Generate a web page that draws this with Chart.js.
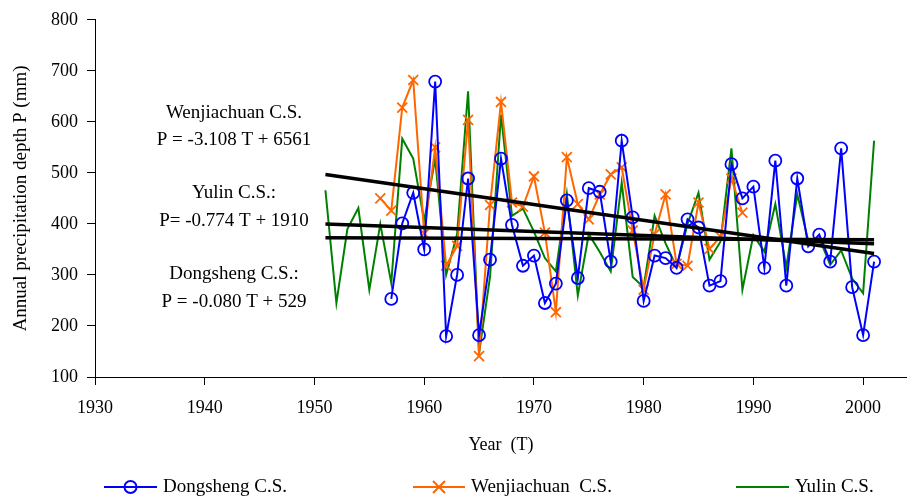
<!DOCTYPE html>
<html>
<head>
<meta charset="utf-8">
<script src="https://cdn.jsdelivr.net/npm/chart.js@4.4.1/dist/chart.umd.min.js"></script>
<style>
  html, body { margin: 0; padding: 0; background: #fff; }
  #wrap { width: 907px; height: 501px; position: relative; }
</style>
</head>
<body>
<div id="wrap"><canvas id="chart"></canvas></div>
<script>
// annual precipitation (mm)
const dongshengYears = [1957, 1958, 1959, 1960, 1961, 1962, 1963, 1964, 1965, 1966, 1967, 1968, 1969, 1970, 1971, 1972, 1973, 1974, 1975, 1976, 1977, 1978, 1979, 1980, 1981, 1982, 1983, 1984, 1985, 1986, 1987, 1988, 1989, 1990, 1991, 1992, 1993, 1994, 1995, 1996, 1997, 1998, 1999, 2000, 2001];
const dongsheng = [253, 401, 461, 350, 679, 180, 300, 489, 182, 330, 528, 398, 318, 338, 245, 283, 446, 294, 470, 463, 326, 563, 413, 249, 338, 333, 314, 409, 393, 279, 288, 517, 450, 473, 314, 524, 279, 489, 356, 379, 326, 548, 276, 182, 326];

const wenjiachuanYears = [1956, 1957, 1958, 1959, 1960, 1961, 1962, 1963, 1964, 1965, 1966, 1967, 1968, 1969, 1970, 1971, 1972, 1973, 1974, 1975, 1976, 1977, 1978, 1979, 1980, 1981, 1982, 1983, 1984, 1985, 1986, 1987, 1988, 1989];
const wenjiachuan = [450, 426, 628, 682, 381, 550, 318, 357, 604, 141, 437, 639, 442, 434, 493, 383, 227, 531, 439, 409, 458, 497, 511, 387, 271, 380, 458, 322, 318, 442, 351, 375, 489, 422];

const yulinYears = [1951, 1952, 1953, 1954, 1955, 1956, 1957, 1958, 1959, 1960, 1961, 1962, 1963, 1964, 1965, 1966, 1967, 1968, 1969, 1970, 1971, 1972, 1973, 1974, 1975, 1976, 1977, 1978, 1979, 1980, 1981, 1982, 1983, 1984, 1985, 1986, 1987, 1988, 1989, 1990, 1991, 1992, 1993, 1994, 1995, 1996, 1997, 1998, 1999, 2000, 2001];
const yulin = [466, 245, 390, 431, 271, 400, 284, 567, 528, 406, 528, 300, 380, 660, 147, 296, 614, 416, 430, 385, 333, 307, 459, 260, 380, 345, 307, 481, 296, 276, 416, 362, 315, 400, 461, 330, 365, 548, 271, 378, 346, 439, 315, 458, 367, 372, 320, 348, 293, 264, 563];

// linear trend lines, end points
const trendYears = [1951, 2001];
const trendWenjiachuan = [497, 342];
const trendYulin = [400, 361];
const trendDongsheng = [373, 369];

const xTicks = [1930, 1940, 1950, 1960, 1970, 1980, 1990, 2000];

const equations = [
  "Wenjiachuan C.S.", "P = -3.108 T + 6561",
  "Yulin C.S.:", "P= -0.774 T + 1910",
  "Dongsheng C.S.:", "P = -0.080 T + 529",
];

const SERIF = "'Liberation Serif', 'Times New Roman', serif";

const pts = (xs, ys) => xs.map((x, i) => ({ x: x, y: ys[i] }));

// equations + hand drawn legend
const extras = {
  id: "extras",
  afterDraw(chart) {
    const c = chart.ctx;
    c.save();
    c.fillStyle = "#000";
    c.font = "19px " + SERIF;
    c.textAlign = "center";
    c.textBaseline = "middle";
    const ys = [113, 140, 193, 221, 274, 302];
    equations.forEach((t, i) => c.fillText(t, 234, ys[i]));

    const ly = 487;
    const items = [
      { x0: 104, x1: 157, color: "#0000ff", mark: "circle", label: "Dongsheng C.S." },
      { x0: 413, x1: 465, color: "#ff6600", mark: "x", label: "Wenjiachuan  C.S." },
      { x0: 736, x1: 789, color: "#008000", mark: null, label: "Yulin C.S." },
    ];
    items.forEach((it) => {
      c.strokeStyle = it.color;
      c.lineWidth = 2;
      c.beginPath();
      c.moveTo(it.x0, ly);
      c.lineTo(it.x1, ly);
      c.stroke();
      const mx = (it.x0 + it.x1) / 2;
      if (it.mark === "circle") {
        c.beginPath();
        c.arc(mx, ly, 6, 0, Math.PI * 2);
        c.stroke();
      } else if (it.mark === "x") {
        c.beginPath();
        c.moveTo(mx - 6, ly - 6); c.lineTo(mx + 6, ly + 6);
        c.moveTo(mx + 6, ly - 6); c.lineTo(mx - 6, ly + 6);
        c.stroke();
      }
      c.fillStyle = "#000";
      c.textAlign = "left";
      c.fillText(it.label, it.x1 + 6, ly);
    });
    c.restore();
  },
};

const trendStyle = {
  borderColor: "#000",
  borderWidth: 3.5,
  pointRadius: 0,
  fill: false,
  order: 0,
};

new Chart(document.getElementById("chart"), {
  type: "line",
  data: {
    datasets: [
      { label: "Wenjiachuan trend", data: pts(trendYears, trendWenjiachuan), ...trendStyle },
      { label: "Yulin trend", data: pts(trendYears, trendYulin), ...trendStyle },
      { label: "Dongsheng trend", data: pts(trendYears, trendDongsheng), ...trendStyle },
      {
        label: "Dongsheng C.S.",
        data: pts(dongshengYears, dongsheng),
        borderColor: "#0000ff",
        borderWidth: 2,
        pointStyle: "circle",
        pointRadius: 6,
        pointBorderWidth: 1.8,
        pointBorderColor: "#0000ff",
        pointBackgroundColor: "transparent",
        tension: 0,
        order: 1,
      },
      {
        label: "Wenjiachuan C.S.",
        data: pts(wenjiachuanYears, wenjiachuan),
        borderColor: "#ff6600",
        borderWidth: 2,
        pointStyle: "crossRot",
        pointRadius: 7,
        pointBorderWidth: 1.8,
        pointBorderColor: "#ff6600",
        tension: 0,
        order: 2,
      },
      {
        label: "Yulin C.S.",
        data: pts(yulinYears, yulin),
        borderColor: "#008000",
        borderWidth: 2,
        pointRadius: 0,
        tension: 0,
        order: 3,
      },
    ],
  },
  options: {
    responsive: true,
    maintainAspectRatio: false,
    animation: false,
    layout: { autoPadding: false, padding: { top: 18, right: 0, bottom: 0, left: 0 } },
    plugins: {
      legend: { display: false },
      tooltip: { enabled: false },
    },
    scales: {
      x: {
        type: "linear",
        min: 1930,
        max: 2004,
        afterBuildTicks: (scale) => {
          scale.ticks = xTicks.map((v) => ({ value: v }));
        },
        afterFit: (scale) => {
          scale.height = 124;
          scale.paddingRight = 0;
          scale.paddingLeft = 0;
        },
        grid: { drawOnChartArea: false, drawTicks: true, tickLength: 8, color: "#000" },
        border: { display: true, color: "#000", width: 1 },
        ticks: {
          color: "#000",
          font: { family: SERIF, size: 18 },
          padding: 12,
          maxRotation: 0,
          callback: (v) => String(v),
        },
        title: {
          display: true,
          text: "Year  (T)",
          color: "#000",
          font: { family: SERIF, size: 18 },
          padding: { top: 0, bottom: 45 },
        },
      },
      y: {
        min: 100,
        max: 800,
        afterFit: (scale) => { scale.width = 95; },
        grid: { drawOnChartArea: false, drawTicks: true, tickLength: 8, color: "#000" },
        border: { display: true, color: "#000", width: 1 },
        ticks: {
          stepSize: 100,
          color: "#000",
          font: { family: SERIF, size: 18 },
          padding: 9,
        },
        title: {
          display: true,
          text: "Annual precipitation depth P (mm)",
          color: "#000",
          font: { family: SERIF, size: 19 },
          padding: { top: 10, bottom: 0 },
        },
      },
    },
  },
  plugins: [extras],
});
</script>
</body>
</html>
